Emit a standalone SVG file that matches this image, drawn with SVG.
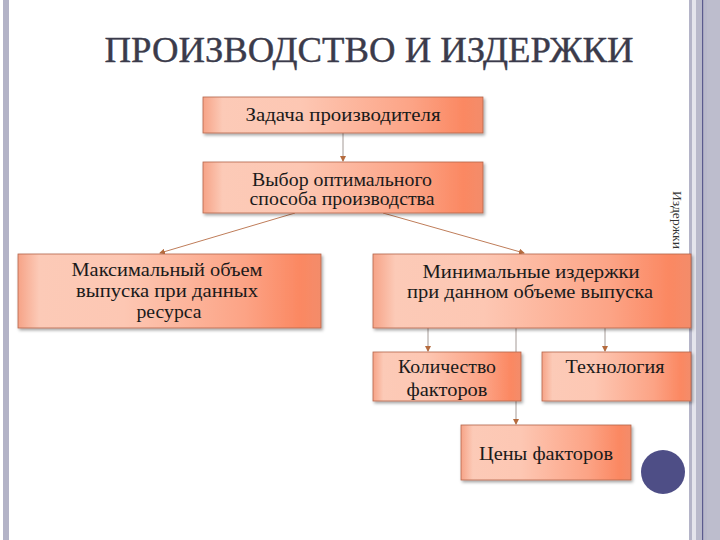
<svg xmlns="http://www.w3.org/2000/svg" width="720" height="540" viewBox="0 0 720 540">
<defs>
<linearGradient id="boxGrad" x1="0" y1="0" x2="1" y2="0">
<stop offset="0" stop-color="#f6a387"/>
<stop offset="0.07" stop-color="#fccab7"/>
<stop offset="0.35" stop-color="#fdc7b3"/>
<stop offset="0.75" stop-color="#fca385"/>
<stop offset="0.93" stop-color="#fb8862"/>
<stop offset="1" stop-color="#f38c6a"/>
</linearGradient>
<filter id="shadow" x="-5%" y="-10%" width="115%" height="135%">
<feDropShadow dx="1.5" dy="2" stdDeviation="1.4" flood-color="#000" flood-opacity="0.35"/>
</filter>
<marker id="arrow" viewBox="0 0 6 6" refX="5" refY="3" markerWidth="6" markerHeight="6" orient="auto" markerUnits="userSpaceOnUse">
<path d="M0,0 L6,3 L0,6 z" fill="#b56b3e"/>
</marker>
</defs>
<style>
.box{fill:url(#boxGrad);stroke:#b5644a;stroke-width:0.8;filter:url(#shadow)}
.lbl{font-family:"Liberation Serif",serif;font-size:18px;fill:#1a1a1a;text-anchor:middle}
.v{stroke:#a49a96;stroke-width:1;fill:none}
.d{stroke:#bf7d5a;stroke-width:1;fill:none}
</style>
<rect x="0" y="0" width="720" height="540" fill="#ffffff"/>
<rect x="3" y="0" width="6" height="540" fill="#b3b3c7"/>
<rect x="689" y="0" width="3" height="540" fill="#b4b4c8"/>
<rect x="692" y="0" width="4" height="540" fill="#e4e4ec"/>
<rect x="696" y="0" width="24" height="540" fill="#b9b9cb"/>
<rect x="702" y="0" width="1.2" height="540" fill="#5b5b8e"/>
<rect x="707" y="0" width="13" height="540" fill="#bdbdcd"/>
<text x="369" y="62" font-family="Liberation Serif, serif" font-size="35" fill="#3b3b4b" stroke="#3b3b4b" stroke-width="0.4" text-anchor="middle" textLength="529" lengthAdjust="spacingAndGlyphs">ПРОИЗВОДСТВО И ИЗДЕРЖКИ</text>
<text transform="translate(673,191) rotate(90)" font-family="Liberation Serif, serif" font-size="13" fill="#333" textLength="58" lengthAdjust="spacingAndGlyphs">Издержки</text>
<g id="connectors">
<line class="v" x1="343" y1="133" x2="343" y2="161" marker-end="url(#arrow)"/>
<line class="d" x1="295" y1="213" x2="160" y2="253" marker-end="url(#arrow)"/>
<line class="d" x1="383" y1="213" x2="524" y2="253" marker-end="url(#arrow)"/>
<line class="v" x1="428" y1="328" x2="428" y2="351" marker-end="url(#arrow)"/>
<line class="v" x1="516" y1="328" x2="516" y2="424" marker-end="url(#arrow)"/>
<line class="v" x1="605" y1="328" x2="605" y2="351" marker-end="url(#arrow)"/>
</g>
<g id="node-task">
<rect class="box" x="203" y="97" width="280" height="36"/>
<text class="lbl" x="343" y="121" textLength="195" lengthAdjust="spacingAndGlyphs">Задача производителя</text>
</g>
<g id="node-choice">
<rect class="box" x="203" y="162" width="280" height="51"/>
<text class="lbl" x="342" y="186" textLength="180" lengthAdjust="spacingAndGlyphs">Выбор оптимального</text>
<text class="lbl" x="342" y="205" textLength="185" lengthAdjust="spacingAndGlyphs">способа производства</text>
</g>
<g id="node-max">
<rect class="box" x="18" y="254" width="303" height="74"/>
<text class="lbl" x="167" y="276" textLength="191" lengthAdjust="spacingAndGlyphs">Максимальный объем</text>
<text class="lbl" x="167" y="297" textLength="182" lengthAdjust="spacingAndGlyphs">выпуска при данных</text>
<text class="lbl" x="169" y="318" textLength="65" lengthAdjust="spacingAndGlyphs">ресурса</text>
</g>
<g id="node-min">
<rect class="box" x="373" y="254" width="318" height="74"/>
<text class="lbl" x="531" y="278" textLength="217" lengthAdjust="spacingAndGlyphs">Минимальные издержки</text>
<text class="lbl" x="530" y="298" textLength="246" lengthAdjust="spacingAndGlyphs">при данном объеме выпуска</text>
</g>
<g id="node-qty">
<rect class="box" x="373" y="352" width="148" height="49"/>
<text class="lbl" x="447" y="373" textLength="98" lengthAdjust="spacingAndGlyphs">Количество</text>
<text class="lbl" x="447" y="396" textLength="81" lengthAdjust="spacingAndGlyphs">факторов</text>
</g>
<g id="node-tech">
<rect class="box" x="542" y="352" width="149" height="49"/>
<text class="lbl" x="615" y="373" textLength="99" lengthAdjust="spacingAndGlyphs">Технология</text>
</g>
<g id="node-prices">
<rect class="box" x="461" y="425" width="170" height="55"/>
<text class="lbl" x="546" y="460" textLength="134" lengthAdjust="spacingAndGlyphs">Цены факторов</text>
</g>
<circle cx="663" cy="472" r="22" fill="#4e4e86"/>
</svg>
